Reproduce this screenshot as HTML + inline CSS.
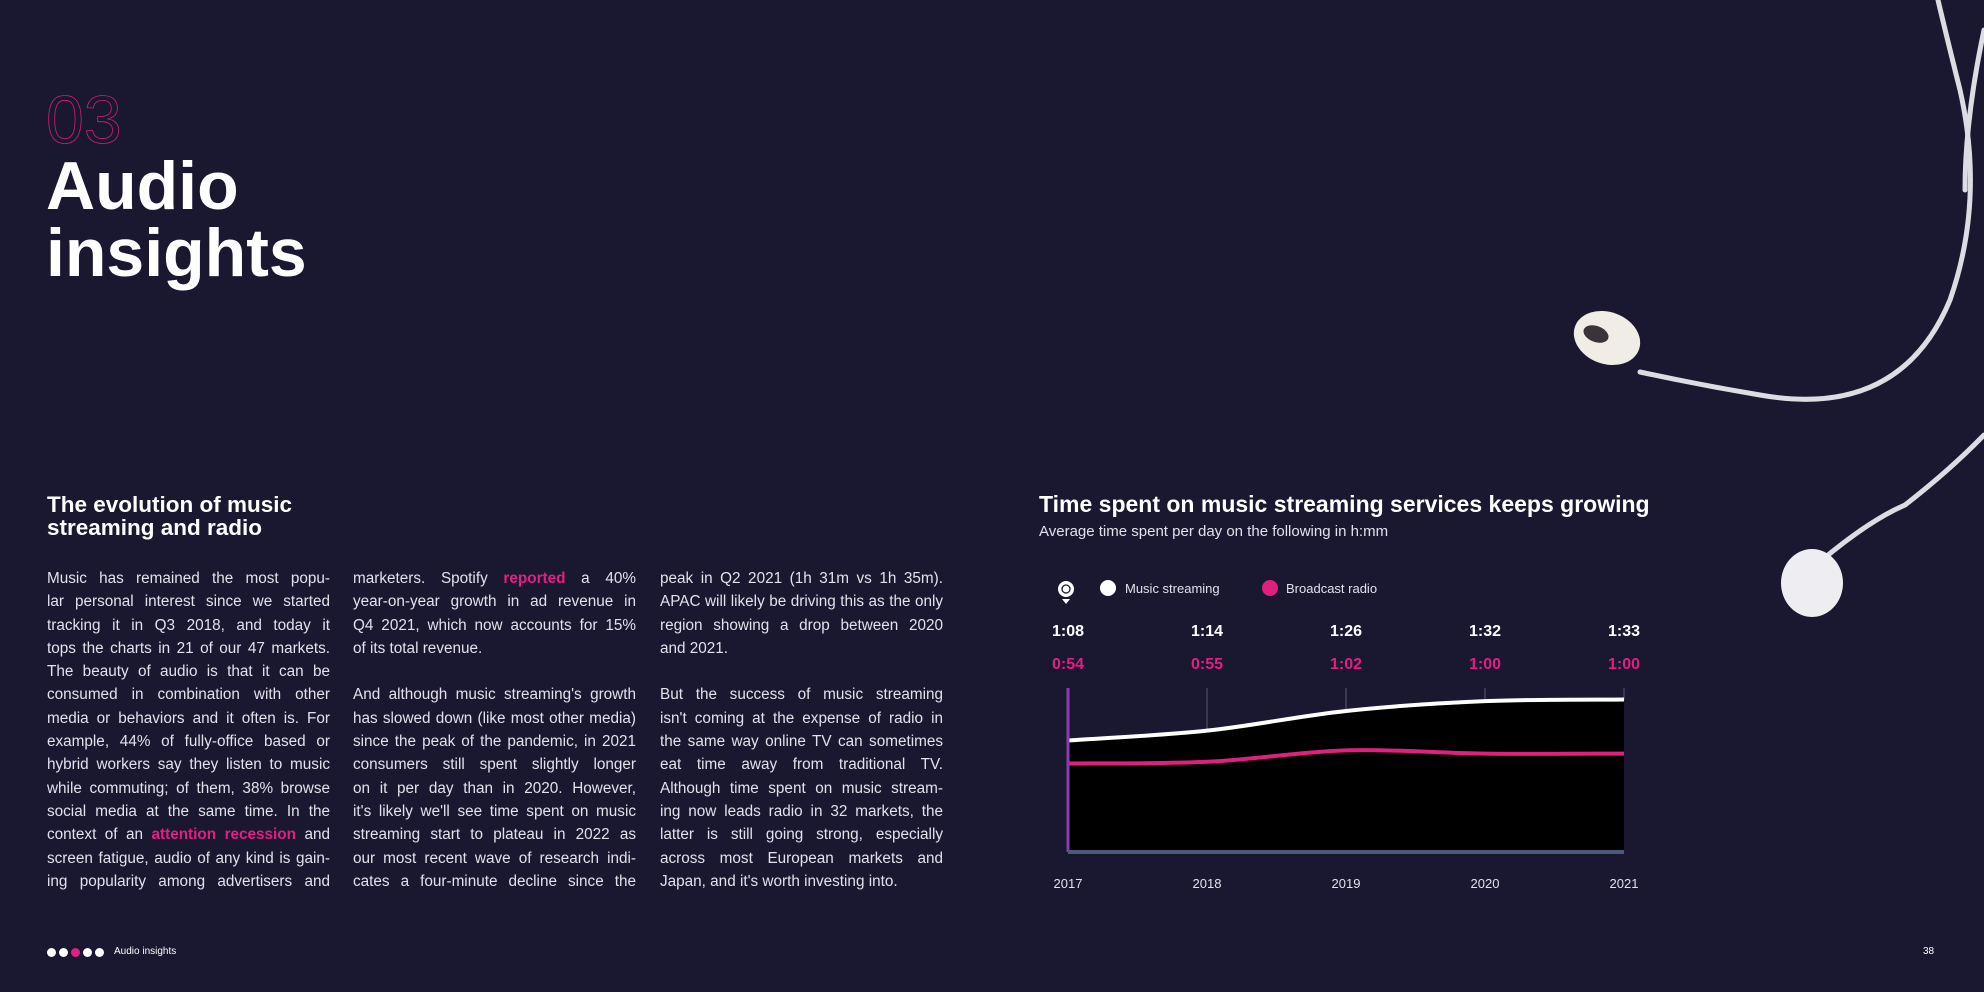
<!DOCTYPE html>
<html><head><meta charset="utf-8"><style>
body{margin:0;width:1984px;height:992px;background:#1a1731;overflow:hidden;position:relative;font-family:"Liberation Sans",sans-serif;color:#fff}
.a{position:absolute}
.col{position:absolute;width:283px;font-size:15.3px;color:#e4e1ec;line-height:23.3px}
.col div{text-align:justify;text-align-last:justify;white-space:nowrap;overflow:hidden}
.col div.l{text-align-last:left}
.pk{color:#e0207f;font-weight:bold}
</style></head><body>
<svg class="a" style="left:0;top:0" width="1984" height="992">
<g fill="none" stroke="#dcdde3" stroke-width="5" stroke-linecap="round">
<path d="M1640 372 Q1700 385 1760 395 Q1900 420 1950 300 Q1985 200 1960 90 Q1945 30 1938 0"/>
<path d="M1984 30 Q1965 120 1965 190"/>
<path d="M1822 560 Q1870 520 1905 505 Q1950 470 1984 435"/>
</g>
<ellipse cx="1607" cy="338" rx="34" ry="26" fill="#f0ece6" transform="rotate(20 1607 338)"/>
<ellipse cx="1596" cy="334" rx="13" ry="8" fill="#3a3438" transform="rotate(20 1596 334)"/>
<ellipse cx="1812" cy="583" rx="31" ry="34" fill="#eeeef2"/>
</svg>
<div class="a" style="left:46px;top:80px;font-size:68px;font-weight:normal;color:transparent;-webkit-text-stroke:0.8px #d0207a;line-height:80px">03</div>
<div class="a" style="left:46px;top:153px;font-size:68px;font-weight:bold;line-height:67px">Audio<br>insights</div>
<div class="a" style="left:47px;top:493px;font-size:22.5px;font-weight:bold;line-height:23px">The evolution of music<br>streaming and radio</div>
<div class="col" style="left:47px;top:567px">
<div>Music has remained the most popu-</div><div>lar personal interest since we started</div><div>tracking it in Q3 2018, and today it</div><div>tops the charts in 21 of our 47 markets.</div><div>The beauty of audio is that it can be</div><div>consumed in combination with other</div><div>media or behaviors and it often is. For</div><div>example, 44% of fully-office based or</div><div>hybrid workers say they listen to music</div><div>while commuting; of them, 38% browse</div><div>social media at the same time. In the</div><div>context of an <span class="pk">attention recession</span> and</div><div>screen fatigue, audio of any kind is gain-</div><div>ing popularity among advertisers and</div></div>
<div class="col" style="left:353px;top:567px">
<div>marketers. Spotify <span class="pk">reported</span> a 40%</div><div>year-on-year growth in ad revenue in</div><div>Q4 2021, which now accounts for 15%</div><div class="l">of its total revenue.</div><div>&nbsp;</div><div>And although music streaming's growth</div><div>has slowed down (like most other media)</div><div>since the peak of the pandemic, in 2021</div><div>consumers still spent slightly longer</div><div>on it per day than in 2020. However,</div><div>it's likely we'll see time spent on music</div><div>streaming start to plateau in 2022 as</div><div>our most recent wave of research indi-</div><div>cates a four-minute decline since the</div></div>
<div class="col" style="left:660px;top:567px">
<div>peak in Q2 2021 (1h 31m vs 1h 35m).</div><div>APAC will likely be driving this as the only</div><div>region showing a drop between 2020</div><div class="l">and 2021.</div><div>&nbsp;</div><div>But the success of music streaming</div><div>isn't coming at the expense of radio in</div><div>the same way online TV can sometimes</div><div>eat time away from traditional TV.</div><div>Although time spent on music stream-</div><div>ing now leads radio in 32 markets, the</div><div>latter is still going strong, especially</div><div>across most European markets and</div><div class="l">Japan, and it's worth investing into.</div></div>
<div class="a" style="left:1039px;top:491px;font-size:23px;font-weight:bold">Time spent on music streaming services keeps growing</div>
<div class="a" style="left:1039px;top:523px;font-size:15px;color:#e4e1ec">Average time spent per day on the following in h:mm</div>
<svg id="chart" class="a" style="left:0;top:0" width="1984" height="992"></svg>
<div class="a" style="left:47px;top:948px;width:60px;height:10px">
<span style="position:absolute;left:0;width:9px;height:9px;border-radius:50%;background:#fff"></span><span style="position:absolute;left:12px;width:9px;height:9px;border-radius:50%;background:#fff"></span><span style="position:absolute;left:24px;width:9px;height:9px;border-radius:50%;background:#e0207f"></span><span style="position:absolute;left:36px;width:9px;height:9px;border-radius:50%;background:#fff"></span><span style="position:absolute;left:48px;width:9px;height:9px;border-radius:50%;background:#fff"></span></div>
<div class="a" style="left:114px;top:946px;font-size:10px">Audio insights</div>
<div class="a" style="left:1923px;top:946px;font-size:10px">38</div>
<script>
const years=["2017","2018","2019","2020","2021"];
const streaming=[68,74,86,92,93];
const radio=[54,55,62,60,60];
const streamLabels=["1:08","1:14","1:26","1:32","1:33"];
const radioLabels=["0:54","0:55","1:02","1:00","1:00"];
const NS="http://www.w3.org/2000/svg";
const svg=document.getElementById('chart');
const x0=1068,x1=1624,yBase=852,pxPerMin=1.64;
const xs=i=>x0+i*(x1-x0)/(years.length-1);
const ys=v=>yBase-v*pxPerMin;
function mk(t,a,p){const e=document.createElementNS(NS,t);for(const k in a)e.setAttribute(k,a[k]);(p||svg).appendChild(e);return e;}
function curve(arr){
 const P=arr.map((v,i)=>[xs(i),ys(v)]);
 let d='M'+P[0][0]+' '+P[0][1];
 for(let i=0;i<P.length-1;i++){
  const p0=P[Math.max(0,i-1)],p1=P[i],p2=P[i+1],p3=P[Math.min(P.length-1,i+2)];
  const c1=[p1[0]+(p2[0]-p0[0])/6,p1[1]+(p2[1]-p0[1])/6];
  const c2=[p2[0]-(p3[0]-p1[0])/6,p2[1]-(p3[1]-p1[1])/6];
  d+=` C${c1[0]} ${c1[1]} ${c2[0]} ${c2[1]} ${p2[0]} ${p2[1]}`;
 }
 return d;}
const area=mk('path',{d:curve(streaming)+` L${xs(years.length-1)} ${yBase} L${xs(0)} ${yBase} Z`,fill:'#000'});


years.forEach((y,i)=>{
 const g=mk('line',{x1:xs(i),x2:xs(i),y1:688,y2:ys(streaming[i]),stroke:'#5a5870','stroke-width':1});
 
 
 const t=mk('text',{x:xs(i),y:888,'text-anchor':'middle','font-size':13,fill:'#e4e1ec'});t.textContent=y;
 
 
 const s=mk('text',{x:xs(i),y:636,'text-anchor':'middle','font-size':16,'font-weight':'bold',fill:'#fff'});s.textContent=streamLabels[i];
 
 
 const r=mk('text',{x:xs(i),y:669,'text-anchor':'middle','font-size':16,'font-weight':'bold',fill:'#e0207f'});r.textContent=radioLabels[i];
 
 
});
const ls=mk('path',{d:curve(streaming),fill:'none',stroke:'#fff','stroke-width':4});


const lr=mk('path',{d:curve(radio),fill:'none',stroke:'#e0207f','stroke-width':4});


const ya=mk('line',{x1:x0,x2:x0,y1:688,y2:852,stroke:'#8a3cb0','stroke-width':3});


const xa=mk('line',{x1:x0,x2:x1,y1:852,y2:852,stroke:'#4e5878','stroke-width':4});


const ic=mk('circle',{cx:1066,cy:589,r:8,fill:'#fff'});


mk('circle',{cx:1066,cy:589,r:4,fill:'none',stroke:'#1a1731','stroke-width':1.3});
mk('path',{d:'M1062 599 L1070 599 L1066 604 Z',fill:'#fff'});
const d1=mk('circle',{cx:1108,cy:588,r:8,fill:'#fff'});


const t1=mk('text',{x:1125,y:593,'font-size':13,fill:'#e4e1ec'});t1.textContent='Music streaming';


const d2=mk('circle',{cx:1270,cy:588,r:8,fill:'#e0207f'});


const t2=mk('text',{x:1286,y:593,'font-size':13,fill:'#e4e1ec'});t2.textContent='Broadcast radio';


</script>
</body></html>
